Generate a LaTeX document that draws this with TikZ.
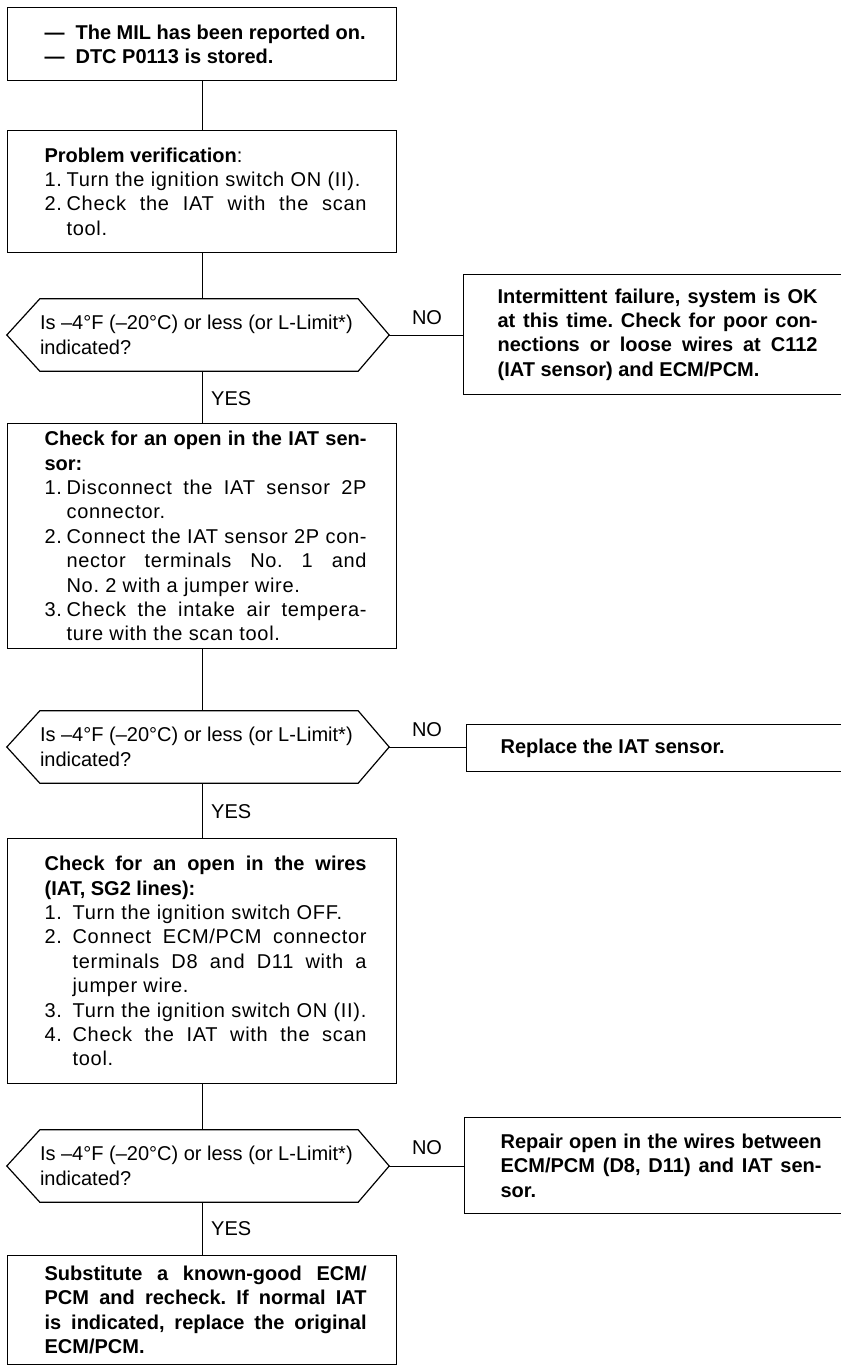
\documentclass[tikz,border=0pt]{standalone}
\usepackage{fontspec}
\setmainfont{Liberation Sans}
\newfontfamily\itemfont[LetterSpace=3.5]{Liberation Sans}
\frenchspacing
\newcommand\tsz{\fontsize{20pt}{24.4pt}\selectfont\frenchspacing}
\newcommand\myJ[1]{\makebox[\linewidth][s]{#1}\par}
\newcommand\myL[1]{\mbox{#1}\par}
\newcommand\myIJ[3]{\makebox[#1][l]{#2}\makebox[\dimexpr\linewidth-#1\relax][s]{#3}\par}
\newcommand\myIL[3]{\makebox[#1][l]{#2}\mbox{#3}\par}
\newcommand\boxtxt[4]{\makebox[#1][l]{\hspace*{#2}\parbox{#3}{\tsz #4}}}
\begin{document}
\begin{tikzpicture}[x=1pt,y=-1pt,
  box/.style={draw, line width=1.2pt, inner sep=0pt, anchor=north west, minimum height=#1, font=\tsz},
  dec/.style={inner sep=0pt, minimum width=318pt, minimum height=72pt, font=\tsz},
  lbl/.style={inner sep=0pt, font=\tsz},
  conn/.style={line width=1pt},
  hex/.style={line width=1.2pt, line join=miter}]
\useasboundingbox (0,0) rectangle (840,1367);

% left column boxes
\node[box=73pt] (b1) at (7,7) {\boxtxt{389pt}{37pt}{322pt}{\bfseries
  \myIL{31pt}{—}{The MIL has been reported on.}
  \myIL{31pt}{—}{DTC P0113 is stored.}}};

\node[box=122pt] (b2) at (7,130) {\boxtxt{389pt}{37pt}{322pt}{%
  \myL{\bfseries Problem verification\mdseries:}
  \itemfont
  \myIL{22pt}{1.}{Turn the ignition switch ON (II).}
  \myIJ{22pt}{2.}{Check the IAT with the scan}
  \myIL{22pt}{}{tool.}}};

\node[dec] (d1) at (199,335) {\parbox{318pt}{\tsz
  \myL{Is –4°F (–20°C) or less (or L-Limit*)}
  \myL{indicated?}}};

\node[box=225pt] (b3) at (7,423) {\boxtxt{389pt}{37pt}{322pt}{%
  {\bfseries\myJ{Check for an open in the IAT sen-}
  \myL{sor:}}
  \itemfont
  \myIJ{22pt}{1.}{Disconnect the IAT sensor 2P}
  \myIL{22pt}{}{connector.}
  \myIJ{22pt}{2.}{Connect the IAT sensor 2P con-}
  \myIJ{22pt}{}{nector terminals No. 1 and}
  \myIL{22pt}{}{No. 2 with a jumper wire.}
  \myIJ{22pt}{3.}{Check the intake air tempera-}
  \myIL{22pt}{}{ture with the scan tool.}}};

\node[dec] (d2) at (199,747) {\parbox{318pt}{\tsz
  \myL{Is –4°F (–20°C) or less (or L-Limit*)}
  \myL{indicated?}}};

\node[box=245pt] (b4) at (7,838) {\boxtxt{389pt}{37pt}{322pt}{%
  {\bfseries\myJ{Check for an open in the wires}
  \myL{(IAT, SG2 lines):}}
  \itemfont
  \myIL{28pt}{1.}{Turn the ignition switch OFF.}
  \myIJ{28pt}{2.}{Connect ECM/PCM connector}
  \myIJ{28pt}{}{terminals D8 and D11 with a}
  \myIL{28pt}{}{jumper wire.}
  \myIL{28pt}{3.}{Turn the ignition switch ON (II).}
  \myIJ{28pt}{4.}{Check the IAT with the scan}
  \myIL{28pt}{}{tool.}}};

\node[dec] (d3) at (199,1166) {\parbox{318pt}{\tsz
  \myL{Is –4°F (–20°C) or less (or L-Limit*)}
  \myL{indicated?}}};

\node[box=109pt] (b5) at (7,1255) {\boxtxt{389pt}{37pt}{322pt}{\bfseries
  \myJ{Substitute a known-good ECM/}
  \myJ{PCM and recheck. If normal IAT}
  \myJ{is indicated, replace the original}
  \myL{ECM/PCM.}}};

% right column boxes
\node[box=120pt] (ib) at (463,274) {\boxtxt{379pt}{34pt}{320pt}{\bfseries
  \myJ{Intermittent failure, system is OK}
  \myJ{at this time. Check for poor con-}
  \myJ{nections or loose wires at C112}
  \myL{(IAT sensor) and ECM/PCM.}}};

\node[box=47pt] (rb) at (466,724) {\boxtxt{376pt}{34pt}{321pt}{\bfseries
  \myL{Replace the IAT sensor.}}};

\node[box=96pt] (pb) at (464,1117) {\boxtxt{378pt}{36pt}{321pt}{\bfseries
  \myJ{Repair open in the wires between}
  \myJ{ECM/PCM (D8, D11) and IAT sen-}
  \myL{sor.}}};

% hexagon outlines of decisions
\foreach \d in {d1,d2,d3}{
  \draw[hex] (\d.north west) -- (\d.north east) -- ([xshift=31pt]\d.east)
    -- (\d.south east) -- (\d.south west) -- ([xshift=-33pt]\d.west) -- cycle;
}
\coordinate (d1r) at ([xshift=31pt]d1.east);
\coordinate (d2r) at ([xshift=31pt]d2.east);
\coordinate (d3r) at ([xshift=31pt]d3.east);

% connectors
\draw[conn] (b1.south) -- (b1.south |- b2.north);
\draw[conn] (b2.south) -- (b2.south |- d1.north);
\draw[conn] (b3.north |- d1.south) -- (b3.north);
\draw[conn] (b3.south) -- (b3.south |- d2.north);
\draw[conn] (b4.north |- d2.south) -- (b4.north);
\draw[conn] (b4.south) -- (b4.south |- d3.north);
\draw[conn] (b5.north |- d3.south) -- (b5.north);
\draw[conn] (d1r) -- (d1r -| ib.west);
\draw[conn] (d2r) -- (d2r -| rb.west);
\draw[conn] (d3r) -- (d3r -| pb.west);

% labels
\node[lbl] (no1) at (427,318) {NO};
\node[lbl] (no2) at (427,730) {NO};
\node[lbl] (no3) at (427,1148) {NO};
\node[lbl, anchor=west] (yes1) at (211,399) {YES};
\node[lbl, anchor=west] (yes2) at (211,812) {YES};
\node[lbl, anchor=west] (yes3) at (211,1229) {YES};
\end{tikzpicture}
\end{document}
